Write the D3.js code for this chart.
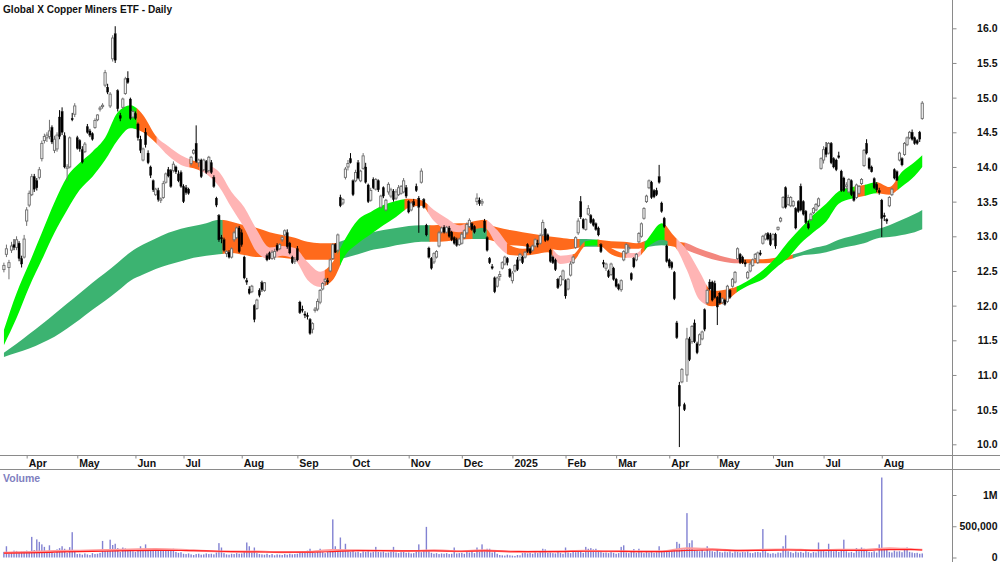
<!DOCTYPE html>
<html>
<head>
<meta charset="utf-8">
<script src="https://cdn.jsdelivr.net/npm/d3@7"></script>
<style>
  html, body { margin: 0; padding: 0; background: #fff; }
  svg { display: block; font-family: Arial, "Liberation Sans", sans-serif; }
</style>
</head>
<body>
<div id="chart"></div>
<script>
/* Global X Copper Miners ETF - daily candles, GMMA ribbons and volume */

const title = "Global X Copper Miners ETF - Daily";

// ASX trading calendar
const firstDay = "2024-03-18", lastDay = "2025-08-25";
const holidays = ["2024-03-29", "2024-04-01", "2024-04-25", "2024-06-10", "2024-12-25", "2024-12-26",
                  "2025-01-01", "2025-01-27", "2025-04-18", "2025-04-21", "2025-04-25", "2025-06-09"];
const monthLabels = ["Apr", "May", "Jun", "Jul", "Aug", "Sep", "Oct", "Nov", "Dec",
                     "2025", "Feb", "Mar", "Apr", "May", "Jun", "Jul", "Aug"];

// prices, one value per trading day
const open = [12.52,12.74,12.55,12.80,12.88,12.84,12.90,12.68,12.70,13.22,
13.45,13.60,13.86,13.80,13.85,14.12,14.38,14.42,14.44,14.57,
14.24,14.26,14.72,14.80,14.45,13.98,14.00,14.70,14.76,14.42,
14.38,14.25,14.22,14.58,14.52,14.48,14.57,14.68,14.84,14.87,
15.18,15.15,14.88,15.56,15.92,15.10,14.74,14.86,15.06,15.28,
14.98,14.72,14.77,14.62,14.40,14.10,14.50,14.20,14.00,13.80,
13.60,13.66,13.52,13.56,13.78,13.96,13.95,13.95,14.00,13.90,
13.92,13.72,13.70,13.68,14.05,14.20,14.34,14.06,14.10,13.96,
14.08,13.95,14.06,13.85,13.55,13.30,12.98,12.95,12.75,12.77,
12.70,12.95,12.98,13.12,13.05,12.70,12.36,12.24,12.20,12.00,
11.96,12.22,12.33,12.22,12.72,12.76,12.68,12.70,12.87,12.82,
12.95,13.02,13.05,12.90,12.70,12.64,12.82,12.05,11.95,11.88,
11.86,11.80,11.66,11.93,11.95,12.05,12.24,12.35,12.36,12.50,
12.68,12.88,12.80,13.56,13.48,13.85,14.00,14.12,13.80,13.80,
14.06,13.80,13.98,14.00,13.74,13.52,13.82,13.68,13.80,13.42,
13.70,13.38,13.64,13.58,13.65,13.55,13.60,13.62,13.64,13.70,
13.50,13.38,13.50,13.72,13.55,13.78,13.53,13.16,12.83,12.68,
12.63,12.70,12.86,13.06,13.13,13.06,13.12,13.06,12.98,12.95,
12.88,12.90,12.98,13.05,13.14,13.18,13.14,13.50,13.52,13.48,
13.22,12.98,12.68,12.56,12.40,12.28,12.42,12.54,12.60,12.68,
12.52,12.36,12.50,12.66,12.66,12.70,12.70,12.88,12.82,12.80,
12.86,12.90,12.90,13.02,13.10,13.02,12.80,12.70,12.66,12.38,
12.30,12.38,12.36,12.24,12.44,12.62,12.84,13.05,13.50,13.24,
13.10,13.32,13.30,13.24,13.18,13.12,12.88,12.62,12.54,12.50,
12.45,12.54,12.38,12.30,12.23,12.66,12.76,12.82,12.46,12.68,
12.66,12.92,13.00,13.26,13.50,13.70,13.78,13.66,13.66,13.86,
13.48,13.26,12.86,12.66,12.62,12.48,11.75,10.85,10.90,10.57,
11.00,11.52,11.48,11.75,11.45,11.44,11.52,11.94,12.04,12.34,
12.34,12.32,12.12,12.18,12.05,12.08,12.06,12.22,12.28,12.34,
12.68,12.74,12.70,12.62,12.40,12.50,12.58,12.68,12.62,12.76,
12.90,12.96,13.04,13.02,12.96,13.03,13.10,13.22,13.42,13.70,
13.46,13.44,13.44,13.40,13.50,13.72,13.50,13.36,13.18,13.24,
13.34,13.38,13.44,13.98,14.10,14.28,14.20,14.34,14.12,14.10,
14.16,13.94,13.84,13.72,13.64,13.80,13.64,13.56,13.62,13.76,
14.02,14.34,14.12,14.00,13.83,13.75,13.66,13.52,13.30,13.24,
13.44,13.60,13.96,13.93,14.10,14.12,14.18,14.32,14.42,14.50,
14.42,14.38,14.50,14.70];

const high = [12.62,12.88,12.66,12.92,12.96,13.00,12.93,12.72,13.02,13.42,
13.66,13.90,13.90,13.84,14.00,14.38,14.48,14.50,14.68,14.60,
14.45,14.50,14.82,14.86,14.50,14.04,14.44,14.78,14.92,14.45,
14.40,14.30,14.36,14.62,14.55,14.50,14.70,14.76,14.88,14.92,
15.40,15.20,15.08,15.90,16.03,15.12,14.78,15.00,15.30,15.38,
15.00,14.84,14.80,14.64,14.45,14.28,14.56,14.24,14.02,13.82,
13.70,13.70,13.56,13.80,13.92,14.00,13.97,14.08,14.02,13.95,
13.95,13.75,13.74,13.70,14.16,14.26,14.60,14.12,14.12,14.12,
14.10,14.16,14.10,13.88,13.57,13.32,13.02,12.98,12.80,12.80,
12.84,13.08,13.14,13.15,13.10,12.72,12.40,12.28,12.30,12.02,
12.10,12.25,12.36,12.34,12.75,12.78,12.80,12.82,12.90,12.90,
13.00,13.10,13.10,12.92,12.72,12.70,12.86,12.07,12.00,11.92,
11.90,11.82,11.76,11.98,12.10,12.24,12.34,12.40,12.40,12.68,
12.90,12.90,13.04,13.60,13.55,14.00,14.10,14.20,13.82,13.96,
14.10,13.96,14.20,14.06,13.76,13.70,13.85,13.84,13.82,13.60,
13.72,13.54,13.78,13.70,13.68,13.68,13.74,13.74,13.84,13.74,
13.52,13.50,13.54,13.76,13.58,13.98,13.55,13.18,12.85,12.70,
12.77,12.80,13.08,13.14,13.16,13.15,13.15,13.08,13.00,12.98,
12.98,13.06,13.10,13.20,13.26,13.20,13.16,13.62,13.56,13.54,
13.25,13.00,12.70,12.60,12.42,12.42,12.50,12.64,12.72,12.70,
12.54,12.50,12.60,12.70,12.76,12.72,12.79,12.90,12.85,12.88,
12.97,12.95,13.04,13.24,13.12,13.04,12.82,12.72,12.68,12.40,
12.44,12.52,12.38,12.40,12.64,12.72,13.00,13.26,13.58,13.26,
13.26,13.45,13.32,13.26,13.20,13.14,12.90,12.66,12.62,12.52,
12.62,12.56,12.40,12.32,12.38,12.80,12.90,12.88,12.48,12.70,
12.76,13.06,13.20,13.42,13.60,13.82,13.80,13.68,13.70,14.03,
13.50,13.28,12.88,12.68,12.64,12.50,11.78,10.90,11.10,10.60,
11.68,11.55,11.72,11.80,11.48,11.60,11.64,11.96,12.24,12.38,
12.36,12.36,12.14,12.20,12.12,12.10,12.30,12.24,12.40,12.50,
12.84,12.76,12.72,12.66,12.50,12.64,12.68,12.76,12.78,12.80,
13.02,13.05,13.06,13.05,13.04,13.05,13.14,13.28,13.58,13.72,
13.60,13.58,13.52,13.42,13.52,13.76,13.52,13.38,13.22,13.34,
13.42,13.48,13.56,14.14,14.30,14.36,14.36,14.36,14.14,14.12,
14.22,13.96,13.86,13.78,13.84,13.82,13.66,13.76,13.74,13.84,
14.26,14.40,14.14,14.02,13.85,13.78,13.70,13.54,13.34,13.26,
13.58,13.70,13.98,13.95,14.22,14.14,14.36,14.44,14.52,14.54,
14.44,14.40,14.52,14.95];

const low = [12.48,12.70,12.38,12.76,12.80,12.80,12.64,12.55,12.68,13.15,
13.42,13.58,13.64,13.66,13.82,14.08,14.34,14.36,14.40,14.33,
14.20,14.22,14.40,14.46,13.98,13.80,13.98,14.66,14.72,14.25,
14.22,14.05,14.20,14.48,14.43,14.38,14.55,14.66,14.80,14.84,
15.15,15.05,14.85,15.52,15.50,14.80,14.66,14.84,15.04,15.20,
14.68,14.70,14.68,14.38,14.20,14.08,14.28,14.04,13.84,13.64,
13.58,13.50,13.48,13.54,13.76,13.85,13.70,13.92,13.90,13.78,
13.70,13.48,13.60,13.60,14.02,14.18,14.06,14.00,13.84,13.94,
13.90,13.92,13.90,13.70,13.42,12.92,12.90,12.78,12.70,12.68,
12.68,12.92,12.96,12.76,12.85,12.38,12.30,12.16,12.18,11.76,
11.94,12.12,12.20,12.20,12.64,12.66,12.66,12.66,12.78,12.80,
12.92,13.00,12.82,12.74,12.60,12.60,12.64,11.88,11.90,11.82,
11.80,11.58,11.60,11.90,11.92,12.02,12.22,12.30,12.30,12.48,
12.66,12.76,12.78,13.42,13.45,13.82,13.95,14.05,13.58,13.78,
13.82,13.78,13.96,13.76,13.48,13.50,13.68,13.66,13.64,13.40,
13.55,13.36,13.60,13.55,13.50,13.52,13.58,13.60,13.62,13.55,
13.33,13.36,13.42,13.64,13.05,13.76,13.40,13.00,12.68,12.52,
12.60,12.68,12.84,13.04,13.04,13.04,12.98,12.93,12.88,12.85,
12.86,12.88,12.96,13.02,13.12,13.08,13.04,13.45,13.44,13.44,
13.05,12.78,12.60,12.52,12.18,12.26,12.36,12.52,12.58,12.58,
12.40,12.32,12.48,12.50,12.64,12.60,12.68,12.76,12.74,12.78,
12.84,12.84,12.88,13.00,12.92,12.93,12.62,12.60,12.50,12.24,
12.28,12.36,12.10,12.22,12.42,12.60,12.82,13.02,13.25,13.10,
13.08,13.30,13.18,13.14,13.08,13.00,12.76,12.55,12.50,12.40,
12.43,12.36,12.26,12.22,12.20,12.64,12.74,12.76,12.36,12.54,
12.64,12.90,12.98,13.24,13.48,13.68,13.54,13.55,13.58,13.76,
13.34,13.12,12.62,12.54,12.52,12.08,11.52,9.96,10.88,10.48,
10.90,11.20,11.45,11.46,11.30,11.42,11.50,11.63,12.02,12.22,
12.06,12.10,11.72,12.02,12.02,12.00,12.04,12.10,12.26,12.32,
12.66,12.60,12.60,12.56,12.38,12.48,12.56,12.66,12.60,12.72,
12.88,12.94,12.94,12.86,12.94,12.82,13.08,13.20,13.40,13.40,
13.44,13.42,13.42,13.10,13.34,13.36,13.30,13.18,13.10,13.22,
13.32,13.36,13.42,13.96,14.05,14.14,14.18,14.04,13.98,13.94,
14.12,13.64,13.64,13.68,13.62,13.58,13.50,13.54,13.60,13.74,
14.00,14.18,13.96,13.92,13.68,13.64,13.60,12.99,13.22,13.18,
13.42,13.58,13.82,13.80,14.08,14.01,14.16,14.30,14.40,14.38,
14.32,14.32,14.36,14.68];

const close = [12.58,12.82,12.62,12.86,12.84,12.95,12.68,12.60,12.96,13.38,
13.62,13.86,13.68,13.70,13.96,14.34,14.44,14.46,14.52,14.36,
14.40,14.46,14.44,14.50,14.00,14.00,14.42,14.68,14.88,14.27,
14.26,14.07,14.33,14.50,14.46,14.40,14.67,14.75,14.85,14.89,
15.36,15.08,15.05,15.86,15.54,14.84,14.70,14.98,15.27,15.22,
14.70,14.80,14.70,14.42,14.24,14.26,14.32,14.06,13.88,13.67,
13.68,13.53,13.54,13.76,13.90,13.87,13.72,14.04,13.93,13.80,
13.72,13.50,13.63,13.62,14.14,14.24,14.08,14.10,13.86,14.10,
13.92,14.14,13.92,13.72,13.45,12.95,12.97,12.80,12.78,12.70,
12.82,13.05,13.12,12.78,12.88,12.40,12.34,12.18,12.28,11.80,
12.08,12.15,12.23,12.33,12.66,12.68,12.77,12.78,12.80,12.88,
12.98,13.08,12.85,12.76,12.62,12.66,12.66,11.90,11.93,11.86,
11.84,11.60,11.74,11.95,12.06,12.22,12.32,12.38,12.34,12.66,
12.88,12.77,13.02,13.44,13.53,13.97,14.05,14.06,13.60,13.92,
13.84,13.94,14.16,13.78,13.50,13.66,13.70,13.82,13.67,13.58,
13.58,13.52,13.75,13.67,13.53,13.64,13.70,13.72,13.80,13.58,
13.35,13.48,13.45,13.66,13.42,13.94,13.42,13.02,12.70,12.54,
12.75,12.78,13.05,13.12,13.06,13.13,13.00,12.95,12.90,12.87,
12.96,13.03,13.08,13.17,13.23,13.10,13.06,13.55,13.47,13.50,
13.07,12.80,12.62,12.54,12.20,12.40,12.45,12.62,12.70,12.62,
12.42,12.47,12.58,12.52,12.74,12.62,12.77,12.78,12.76,12.86,
12.95,12.88,13.01,13.20,12.94,12.95,12.64,12.62,12.52,12.26,
12.42,12.50,12.14,12.38,12.60,12.70,12.98,13.22,13.28,13.12,
13.24,13.40,13.20,13.16,13.10,13.02,12.78,12.60,12.60,12.42,
12.60,12.38,12.28,12.24,12.36,12.78,12.88,12.84,12.38,12.56,
12.74,13.04,13.18,13.40,13.58,13.80,13.56,13.57,13.60,13.78,
13.36,13.14,12.64,12.57,12.55,12.10,11.54,10.55,11.08,10.50,
11.52,11.22,11.70,11.48,11.32,11.58,11.62,11.66,12.22,12.24,
12.08,12.12,11.98,12.04,12.10,12.02,12.28,12.12,12.38,12.48,
12.82,12.62,12.62,12.60,12.48,12.60,12.66,12.74,12.76,12.74,
13.00,13.02,12.96,12.88,13.03,12.86,13.13,13.26,13.56,13.42,
13.56,13.56,13.50,13.12,13.36,13.38,13.32,13.20,13.12,13.32,
13.40,13.46,13.54,14.12,14.25,14.18,14.34,14.06,14.00,13.96,
14.14,13.66,13.66,13.74,13.82,13.60,13.52,13.74,13.72,13.82,
14.24,14.20,13.98,13.93,13.70,13.67,13.63,13.26,13.28,13.22,
13.56,13.68,13.84,13.81,14.20,14.03,14.34,14.42,14.50,14.40,
14.34,14.34,14.40,14.92];

// volume, thousands of units
const volume = [90,180,60,80,110,105,85,95,100,
110,95,330,120,290,250,210,170,100,195,90,70,130,150,180,140,75,165,405,90,
55,60,45,65,50,40,70,55,60,75,265,130,110,285,200,220,150,90,160,145,120,130,100,
90,110,180,120,210,130,140,115,125,130,110,120,125,135,105,140,90,75,85,
60,55,65,50,40,55,60,45,50,65,55,60,50,80,230,160,70,50,45,60,55,70,60,
65,90,240,180,80,160,70,55,50,45,60,40,55,35,50,45,40,55,45,60,50,55,
60,90,100,80,110,140,95,75,100,140,85,70,90,110,610,180,120,320,110,220,100,
90,120,85,95,70,100,90,110,80,95,170,90,85,100,75,80,95,170,80,70,85,90,75,
80,65,70,95,210,85,110,490,100,75,60,70,55,65,60,70,55,60,160,65,70,
75,60,90,80,100,70,160,90,210,100,140,140,80,110,60,40,35,30,45,35,
30,25,40,35,70,80,65,75,60,85,70,90,140,130,75,80,70,65,90,75,60,
160,80,70,90,85,110,120,75,170,140,150,130,140,90,100,75,80,70,90,75,
60,70,170,195,80,70,90,135,75,140,85,70,90,80,100,75,85,180,90,110,100,
90,120,130,250,220,150,130,710,230,275,120,110,100,120,95,180,110,100,90,
135,90,80,95,85,100,75,110,95,80,90,85,100,75,70,85,90,80,455,100,75,60,
70,60,80,75,180,355,100,85,70,95,80,90,75,100,85,70,90,80,240,110,
120,95,220,130,100,110,90,120,285,100,80,90,75,150,100,160,140,110,90,85,100,80,210,
1280,150,140,90,80,110,95,100,85,120,160,90,80,70,75,60,65];

// ribbon edges read every 5 trading days (plus the last day)
const ribbonIdx = [0,5,10,15,20,25,30,35,40,45,50,55,60,65,70,75,80,85,90,95,
  100,105,110,115,120,125,130,135,140,145,150,155,160,165,170,175,180,185,190,195,
  200,205,210,215,220,225,230,235,240,245,250,255,260,265,270,275,280,285,290,295,
  300,305,310,315,320,325,330,335,340,345,350,355,360,363];

const shortTop = [11.65,12.18,12.61,13.05,13.49,13.86,14.06,14.22,14.42,14.79,
  14.89,14.75,14.45,14.30,14.17,14.09,14.04,13.93,13.64,13.42,
  13.09,12.84,12.86,12.83,12.63,12.49,12.63,12.97,13.24,13.35,
  13.45,13.51,13.54,13.52,13.38,13.26,13.16,13.21,13.24,13.09,
  12.87,12.82,12.83,12.86,12.72,12.74,12.93,12.95,12.83,12.76,
  12.76,12.99,13.19,13.00,12.80,12.49,12.21,12.23,12.28,12.38,
  12.51,12.69,12.92,13.12,13.31,13.47,13.65,13.71,13.74,13.78,
  13.71,13.93,14.07,14.17];
const shortBot = [11.43,11.82,12.27,12.66,13.05,13.38,13.67,13.86,14.10,14.39,
  14.56,14.50,14.35,14.16,14.03,13.98,13.90,13.72,13.41,13.12,
  12.77,12.67,12.72,12.66,12.37,12.27,12.37,12.73,12.90,13.03,
  13.16,13.28,13.41,13.44,13.22,13.09,13.06,13.10,13.12,12.87,
  12.73,12.72,12.74,12.77,12.60,12.64,12.86,12.87,12.74,12.69,
  12.69,12.86,12.95,12.86,12.51,12.08,11.99,12.05,12.20,12.30,
  12.38,12.54,12.69,12.90,13.06,13.21,13.47,13.54,13.58,13.62,
  13.60,13.72,13.87,14.00];
const longTop = [11.32,11.45,11.59,11.73,11.88,12.03,12.18,12.33,12.47,12.62,
  12.77,12.88,12.97,13.05,13.11,13.15,13.19,13.24,13.21,13.16,
  13.12,13.06,13.02,12.98,12.92,12.90,12.90,12.95,13.00,13.05,
  13.09,13.12,13.15,13.16,13.16,13.18,13.19,13.19,13.18,13.13,
  13.09,13.06,13.03,13.00,12.98,12.96,12.96,12.95,12.93,12.92,
  12.90,12.95,12.98,12.93,12.90,12.82,12.76,12.70,12.67,12.67,
  12.67,12.69,12.72,12.77,12.83,12.87,12.95,13.00,13.05,13.10,
  13.16,13.24,13.32,13.38];
const longBot = [11.26,11.32,11.38,11.46,11.55,11.67,11.80,11.94,12.07,12.21,
  12.36,12.45,12.53,12.59,12.64,12.69,12.72,12.74,12.76,12.73,
  12.70,12.70,12.69,12.67,12.66,12.66,12.66,12.69,12.74,12.80,
  12.83,12.87,12.90,12.92,12.92,12.93,12.95,12.96,12.96,12.92,
  12.87,12.86,12.83,12.82,12.80,12.82,12.85,12.85,12.83,12.82,
  12.82,12.85,12.87,12.85,12.80,12.73,12.67,12.63,12.61,12.61,
  12.61,12.63,12.66,12.72,12.74,12.77,12.82,12.86,12.90,12.97,
  12.99,13.02,13.06,13.10];

// ribbon colour changes: [from day, to day, state]
const shortStates = [[0,52.6,"up"],[52.6,60.5,"mixed"],[60.5,73.5,"down"],[73.5,77.5,"mixed"],
  [77.5,127,"down"],[127,133,"mixed"],[133,158.5,"up"],[158.5,167.6,"mixed"],[167.6,182.3,"down"],
  [182.3,191,"mixed"],[191,199,"down"],[199,217,"mixed"],[217,225,"down"],[225,229.7,"mixed"],
  [229.7,234.8,"up"],[234.8,246,"mixed"],[246,252,"down"],[252,253.4,"mixed"],[253.4,261.3,"up"],
  [261.3,266,"mixed"],[266,277.9,"down"],[277.9,289.8,"mixed"],[289.8,336.4,"up"],
  [336.4,340.4,"mixed"],[340.4,345.1,"up"],[345.1,353.4,"mixed"],[353.4,364,"up"]];
const longStates = [[0,86.6,"up"],[86.6,132,"mixed"],[132,168.4,"up"],[168.4,185.4,"mixed"],
  [185.4,191,"up"],[191,227.7,"mixed"],[227.7,234.8,"up"],[234.8,253.4,"mixed"],[253.4,262.5,"up"],
  [262.5,269.2,"mixed"],[269.2,291,"down"],[291,312,"mixed"],[312,364,"up"]];

// volume averages, read every 10 trading days
const maIdx = [0,10,20,30,40,50,60,70,80,90,100,110,120,130,140,150,160,170,180,190,
  200,210,220,230,240,250,260,270,280,290,300,310,320,330,340,350,360,363];
const volAvg = [70,75,85,95,100,110,115,112,105,95,90,85,85,95,110,110,105,105,100,105,
  100,95,95,100,100,95,95,115,120,115,115,120,115,115,115,125,125,120];
const volAvgFast = [75,90,105,110,120,130,135,125,105,95,95,85,90,120,115,110,105,115,100,115,
  90,95,100,110,100,100,100,150,135,110,125,130,115,125,125,150,130,125];

const priceTicks = [10,10.5,11,11.5,12,12.5,13,13.5,14,14.5,15,15.5,16];
const volTicks = [0,500,1000];
const volTickLabels = ["0","500,000","1M"];

// ---------- layout ----------
const width = 1000, height = 562;
const axisX = 952;          // right price axis
const priceBottom = 455;    // bottom of price panel
const volTop = 469;         // top of volume panel
const font = "Arial, 'Liberation Sans', sans-serif";

const shortColor = { up: "#00f400", down: "#ffb4b4", mixed: "#ff6a1c" };
const longColor = { up: "#3cb371", down: "#f3877e", mixed: "#ff6a1c" };

// trading days
const fmt = d3.timeFormat("%Y-%m-%d");
const dates = [];
for (let d = new Date(firstDay + "T00:00:00"); d <= new Date(lastDay + "T00:00:00"); d.setDate(d.getDate() + 1)) {
    const wd = d.getDay();
    if (wd !== 0 && wd !== 6 && !holidays.includes(fmt(d))) dates.push(new Date(d));
}
const n = Math.min(dates.length, close.length);

let monthIdx = [];
for (let i = 1; i < n; i++) {
    if (dates[i].getMonth() !== dates[i - 1].getMonth()) monthIdx.push(i);
}

let svg = d3.select("#chart")
    .append("svg")
    .attr("width", width)
    .attr("height", height)
    .attr("viewBox", [0, 0, width, height]);

const defs = svg.append("defs");

let x = d3.scaleLinear()
    .domain([0, 375])
    .range([3.9, 952.6]);

let y = d3.scaleLinear()
    .domain([10, 16])
    .range([444.3, 28.3]);

let yv = d3.scaleLinear()
    .domain([0, 1000])
    .range([557.5, 495]);

defs.append("clipPath").attr("id", "pricePanel")
    .append("rect").attr("x", 0).attr("y", 0).attr("width", axisX).attr("height", priceBottom);

// ---------- ribbons ----------
function drawRibbon(top, bot, states, colors, id) {
    const area = d3.area()
        .x((d, k) => x(ribbonIdx[k]))
        .y0((d, k) => y(bot[k]))
        .y1((d, k) => y(top[k]))
        .curve(d3.curveMonotoneX);
    const g = svg.append("g").attr("clip-path", "url(#pricePanel)");
    states.forEach((s, j) => {
        const cid = id + j;
        defs.append("clipPath").attr("id", cid)
            .append("rect")
            .attr("x", x(s[0]) - 0.4)
            .attr("width", x(s[1]) - x(s[0]) + 0.8)
            .attr("y", 0)
            .attr("height", priceBottom);
        g.append("path")
            .datum(top)
            .attr("d", area)
            .attr("fill", colors[s[2]])
            .attr("clip-path", `url(#${cid})`);
    });
}

drawRibbon(longTop, longBot, longStates, longColor, "lr");
drawRibbon(shortTop, shortBot, shortStates, shortColor, "sr");

// ---------- candles ----------
const candles = d3.range(n).map(i => ({ i: i, o: open[i], h: high[i], l: low[i], c: close[i] }));

let candle = svg.append("g")
    .attr("clip-path", "url(#pricePanel)")
    .selectAll(".candle")
    .data(candles)
    .join("g")
    .attr("class", "candle");

candle.append("line")
    .attr("x1", d => x(d.i))
    .attr("x2", d => x(d.i))
    .attr("y1", d => y(d.h))
    .attr("y2", d => y(d.l))
    .attr("stroke", d => d.c >= d.o ? "#707070" : "#000")
    .attr("stroke-width", 1);

candle.append("rect")
    .attr("x", d => x(d.i) - 1.1)
    .attr("width", 2.2)
    .attr("y", d => y(Math.max(d.o, d.c)))
    .attr("height", d => Math.max(1.2, Math.abs(y(d.o) - y(d.c))))
    .attr("fill", d => d.c >= d.o ? "#f4f4f4" : "#000")
    .attr("stroke", d => d.c >= d.o ? "#6e6e6e" : "#000")
    .attr("stroke-width", d => d.c >= d.o ? 0.9 : 0.3);

// ---------- volume ----------
svg.append("g")
    .selectAll("rect")
    .data(d3.range(n))
    .join("rect")
    .attr("x", i => x(i) - 0.7)
    .attr("width", 1.4)
    .attr("y", i => yv(volume[i]))
    .attr("height", i => yv(0) - yv(volume[i]))
    .attr("fill", "#8282d2");

const maLine = vals => d3.line()
    .x((d, k) => x(maIdx[k]))
    .y((d, k) => yv(vals[k]))
    .curve(d3.curveMonotoneX)(vals);

svg.append("path")
    .attr("d", maLine(volAvgFast))
    .attr("fill", "none")
    .attr("stroke", "#ff9c9c")
    .attr("stroke-width", 2);

svg.append("path")
    .attr("d", maLine(volAvg))
    .attr("fill", "none")
    .attr("stroke", "#ff1e1e")
    .attr("stroke-width", 1.2);

// ---------- frame lines ----------
svg.append("line")
    .attr("x1", 0).attr("x2", width)
    .attr("y1", priceBottom + 0.5).attr("y2", priceBottom + 0.5)
    .attr("stroke", "#8a8a8a").attr("stroke-width", 1.2);

svg.append("line")
    .attr("x1", 0).attr("x2", width)
    .attr("y1", volTop + 0.5).attr("y2", volTop + 0.5)
    .attr("stroke", "#8a8a8a").attr("stroke-width", 1);

svg.append("line")
    .attr("x1", axisX + 0.5).attr("x2", axisX + 0.5)
    .attr("y1", 0).attr("y2", height)
    .attr("stroke", "#8a8a8a").attr("stroke-width", 1);

// ---------- axes ----------
const styleAxis = g => g
    .attr("font-family", font)
    .call(g => g.select(".domain").remove())
    .call(g => g.selectAll(".tick line").attr("stroke", "#8a8a8a"))
    .call(g => g.selectAll("text")
        .attr("font-size", 10.5)
        .attr("font-weight", "bold")
        .attr("fill", "#111"));

const yAxis = g => g
    .attr("transform", `translate(${axisX + 0.5},0)`)
    .call(d3.axisRight(y).tickValues(priceTicks).tickSize(4).tickFormat(d3.format(".1f")))
    .call(styleAxis)
    .call(g => g.selectAll("text").attr("x", 45).attr("text-anchor", "end"));

const vAxis = g => g
    .attr("transform", `translate(${axisX + 0.5},0)`)
    .call(d3.axisRight(yv).tickValues(volTicks).tickSize(4).tickFormat((d, k) => volTickLabels[k]))
    .call(styleAxis)
    .call(g => g.selectAll("text").attr("x", 45).attr("text-anchor", "end"));

const xAxis = g => g
    .attr("transform", `translate(0,${priceBottom + 0.5})`)
    .call(d3.axisBottom(x).tickValues(monthIdx).tickSize(3).tickPadding(1.5)
        .tickFormat((d, k) => monthLabels[k]))
    .call(styleAxis)
    .call(g => g.selectAll("text").attr("text-anchor", "start").attr("x", 1.5));

svg.append("g").call(yAxis);
svg.append("g").call(vAxis);
svg.append("g").call(xAxis);

// ---------- labels ----------
svg.append("text")
    .attr("x", 3)
    .attr("y", 12.5)
    .attr("font-family", font)
    .attr("font-size", 11.5)
    .attr("font-weight", "bold")
    .attr("fill", "#111")
    .attr("textLength", 169)
    .attr("lengthAdjust", "spacingAndGlyphs")
    .text(title);

svg.append("text")
    .attr("x", 3)
    .attr("y", 481.5)
    .attr("font-family", font)
    .attr("font-size", 10.5)
    .attr("font-weight", "bold")
    .attr("fill", "#8080c0")
    .text("Volume");
</script>
</body>
</html>
